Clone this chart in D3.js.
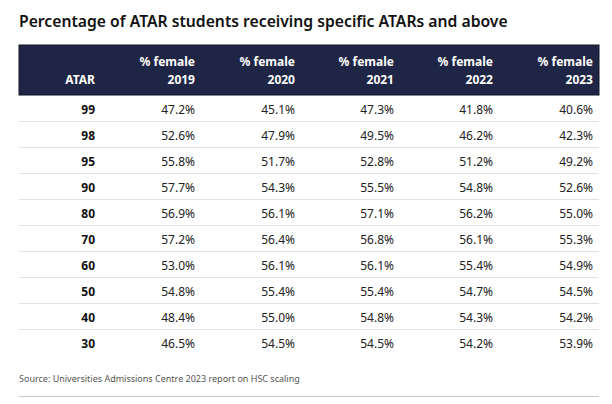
<!DOCTYPE html>
<html><head><meta charset="utf-8">
<script src="https://cdn.jsdelivr.net/npm/d3@7"></script>
<style>
body{margin:0;background:#fff;}
svg{display:block;}
</style></head>
<body>
<svg id="chart" width="612" height="404"></svg>
<script>
const title = "Percentage of ATAR students receiving specific ATARs and above";
const source = "Source: Universities Admissions Centre 2023 report on HSC scaling";
const atars = ["99","98","95","90","80","70","60","50","40","30"];
const years = ["2019","2020","2021","2022","2023"];
const f2019 = ["47.2%","52.6%","55.8%","57.7%","56.9%","57.2%","53.0%","54.8%","48.4%","46.5%"];
const f2020 = ["45.1%","47.9%","51.7%","54.3%","56.1%","56.4%","56.1%","55.4%","55.0%","54.5%"];
const f2021 = ["47.3%","49.5%","52.8%","55.5%","57.1%","56.8%","56.1%","55.4%","54.8%","54.5%"];
const f2022 = ["41.8%","46.2%","51.2%","54.8%","56.2%","56.1%","55.4%","54.7%","54.3%","54.2%"];
const f2023 = ["40.6%","42.3%","49.2%","52.6%","55.0%","55.3%","54.9%","54.5%","54.2%","53.9%"];
const series = [f2019, f2020, f2021, f2022, f2023];

const svg = d3.select("#chart");
const font = "'Noto Sans', 'Open Sans', sans-serif";
const left = 19, right = 599;
const colRight = [95, 195, 295, 394, 493, 593];

function fit(sel, size, target) {
  const w = sel.node().getComputedTextLength();
  sel.attr("font-size", size * target / w);
}

// title
const t = svg.append("text").attr("x", left).attr("y", 27)
  .attr("font-family", font).attr("font-weight", 600).attr("font-size", 18)
  .attr("fill", "#111").text(title);
fit(t, 18, 489);

// header
svg.append("rect").attr("x", left).attr("y", 45).attr("width", right - left).attr("height", 50)
  .attr("fill", "#1f2545").attr("stroke", "#121629").attr("stroke-width", 1);

const hdr = svg.append("g").attr("font-family", font).attr("font-weight", 700)
  .attr("font-size", 12).attr("fill", "#fff").attr("text-anchor", "end");
hdr.append("text").attr("x", colRight[0]).attr("y", 84).text("ATAR");
years.forEach((y, i) => {
  hdr.append("text").attr("x", colRight[i + 1]).attr("y", 66).text("% female");
  hdr.append("text").attr("x", colRight[i + 1]).attr("y", 84).text(y);
});

// rows
const yRow = d3.scaleBand().domain(atars).range([95, 95 + 26 * atars.length]);
const rows = svg.append("g");
atars.forEach((a, r) => {
  const y0 = yRow(a);
  if (r < atars.length - 1) {
    rows.append("line").attr("x1", left).attr("x2", right)
      .attr("y1", y0 + yRow.bandwidth() + 0.5).attr("y2", y0 + yRow.bandwidth() + 0.5)
      .attr("stroke", "#e2e2e2").attr("stroke-width", 1);
  }
  rows.append("text").attr("x", colRight[0]).attr("y", y0 + 19)
    .attr("font-family", font).attr("font-weight", 700).attr("font-size", 12)
    .attr("fill", "#111").attr("text-anchor", "end").text(a);
  series.forEach((s, i) => {
    rows.append("text").attr("x", colRight[i + 1]).attr("y", y0 + 19)
      .attr("font-family", font).attr("font-size", 12)
      .attr("fill", "#222").attr("text-anchor", "end").text(s[r]);
  });
});

// source
const src = svg.append("text").attr("x", left).attr("y", 382)
  .attr("font-family", font).attr("font-size", 10).attr("fill", "#555").text(source);
fit(src, 10, 281);
svg.append("line").attr("x1", left).attr("x2", right).attr("y1", 396.5).attr("y2", 396.5)
  .attr("stroke", "#c9c9d3").attr("stroke-width", 1);
</script>
</body></html>
